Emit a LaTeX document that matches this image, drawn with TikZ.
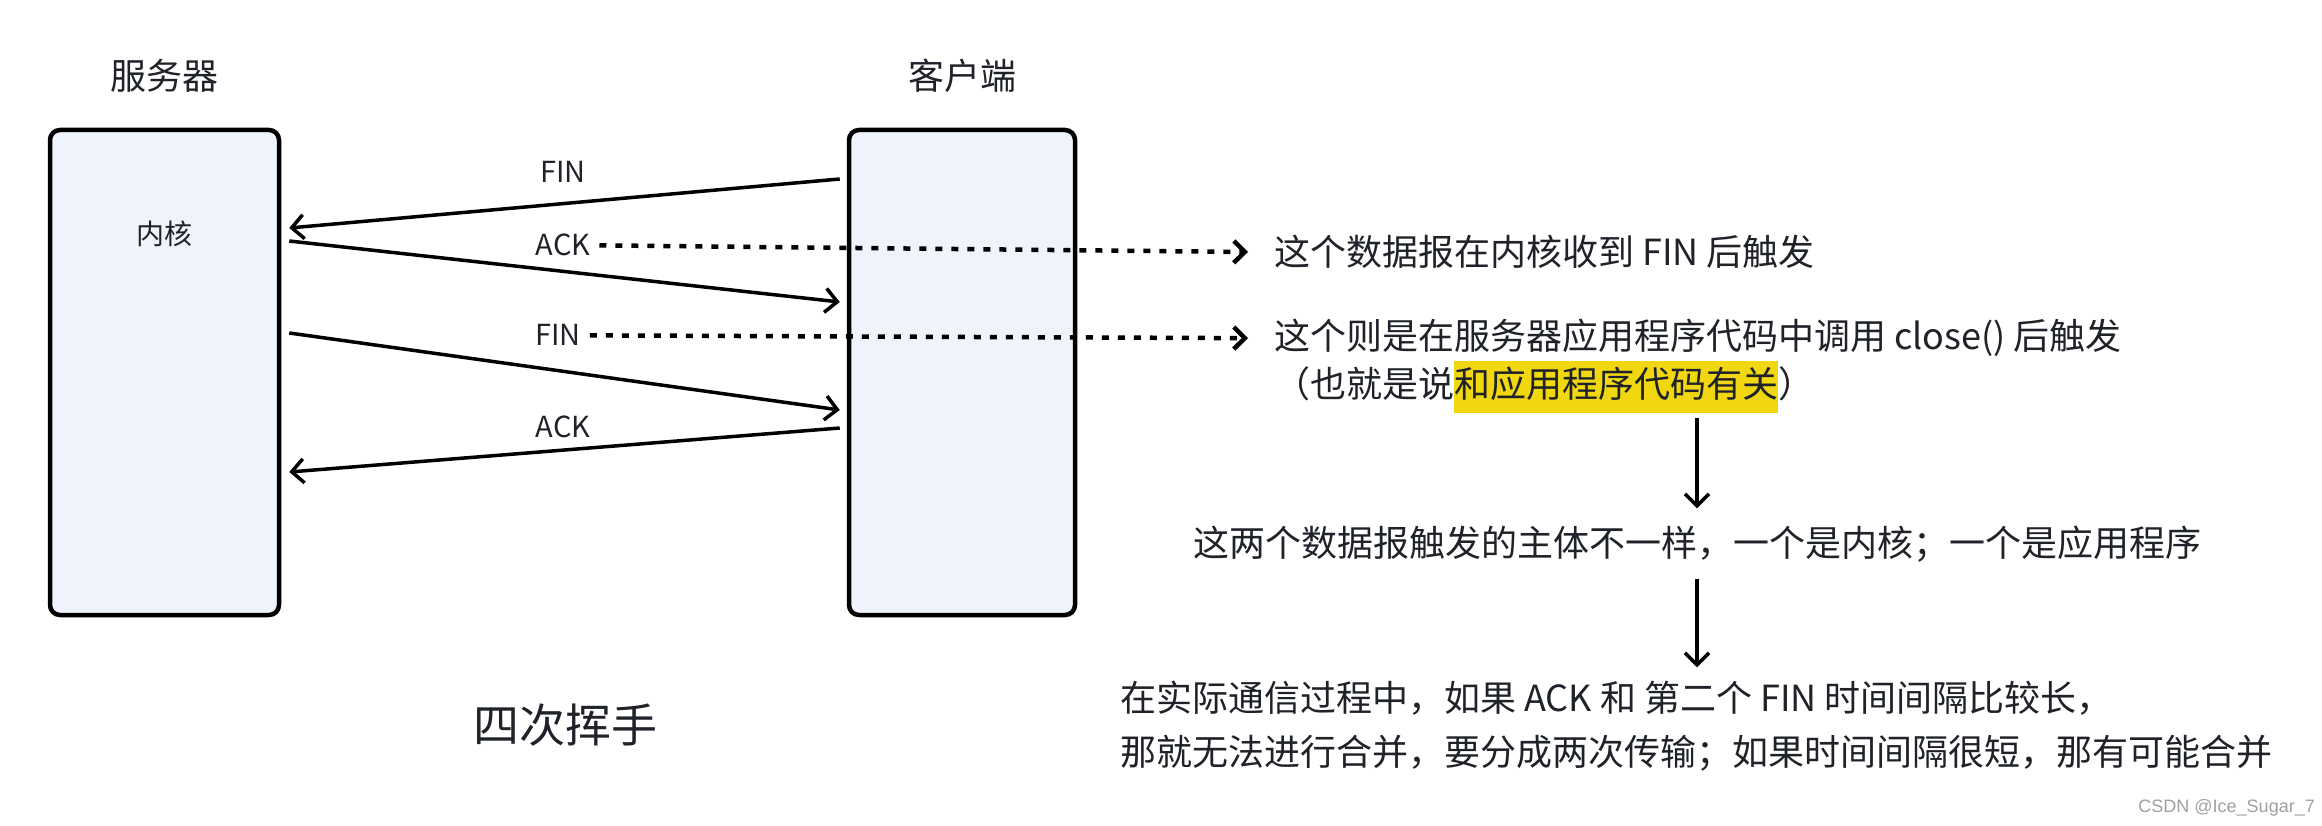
\documentclass[tikz,border=0pt]{standalone}
\usepackage{fontspec}
\setmainfont{Noto Sans CJK SC}
\newfontfamily\wmfont{Liberation Sans}
\usetikzlibrary{arrows.meta,calc}
\definecolor{txt}{RGB}{31,35,41}
\definecolor{boxfill}{RGB}{238,243,252}
\definecolor{hl}{RGB}{240,215,15}
\definecolor{wm}{RGB}{160,160,160}
\begin{document}
\begin{tikzpicture}[x=1pt,y=-1pt,
  lane/.style={draw=black, line width=4.5pt, fill=boxfill, rounded corners=10pt, inner sep=0pt},
  msg/.style={draw=black, line width=3.5pt, -{Straight Barb[length=12pt,width=24pt]}},
  note/.style={draw=black, line width=4.5pt, dash pattern=on 7pt off 9pt, -{Straight Barb[length=11pt,width=22pt]}},
  big/.style={font=\fontsize{36}{52}\selectfont, text=txt, inner sep=0pt},
  head/.style={font=\fontsize{36}{44}\selectfont, text=txt, anchor=base},
  small/.style={font=\fontsize{28}{34}\selectfont, text=txt, anchor=base},
  lab/.style={font=\fontsize{29}{35}\selectfont, text=txt, inner sep=9pt, anchor=base},
  title/.style={font=\fontsize{46}{56}\selectfont, text=txt, anchor=base}]
\fill[white] (0,0) rectangle (2322,826);
\useasboundingbox (0,0) rectangle (2322,826);

% lanes
\node[lane, minimum width=229pt, minimum height=485pt] (srv) at (164.5,372.5) {};
\node[lane, minimum width=226pt, minimum height=485pt] (cli) at (962,372.5) {};
\node[head] (srvlbl) at (164.5,90) {服务器};
\node[head] (clilbl) at (962,90) {客户端};
\node[small] (kern) at (164.5,245) {内核};

% messages
\draw[msg] ($(cli.west)+(-7,-193.5)$) -- ($(srv.east)+(8,-144.5)$);
\draw[msg] ($(srv.east)+(8,-131.5)$) -- ($(cli.west)+(-7,-70.5)$);
\draw[msg] ($(srv.east)+(8,-39.5)$) -- ($(cli.west)+(-7,37.5)$);
\draw[msg] ($(cli.west)+(-7,55.5)$) -- ($(srv.east)+(8,99.5)$);

\node[lab] (fin1) at (563,183) {FIN};
\node[lab] (ack1) at (563,256) {ACK};
\node[lab] (fin2) at (558,346) {FIN};
\node[lab] (ack2) at (563,437) {ACK};

% notes
\node[big, anchor=base west] (t1) at (1274,266) {这个数据报在内核收到 FIN 后触发};
\node[big, anchor=base west] (t2) at (1274,350) {这个则是在服务器应用程序代码中调用 close() 后触发};
\node[big, anchor=base west] (t3) at (1274,397) {（也就是说{\setlength{\fboxsep}{0pt}\colorbox{hl}{\strut 和应用程序代码有关}}）};
\draw[note, shorten >=26pt] (ack1.east) -- (t1.west);
\draw[note, shorten >=26pt] (fin2.east) -- (t2.west);

\node[big, inner ysep=17pt, anchor=base] (mid) at (1697,556) {这两个数据报触发的主体不一样，一个是内核；一个是应用程序};
\node[big, inner ysep=13pt, anchor=base west] (b1) at (1120,711) {在实际通信过程中，如果 ACK 和 第二个 FIN 时间间隔比较长，};
\node[big, anchor=base west] (b2) at (1120,765) {那就无法进行合并，要分成两次传输；如果时间间隔很短，那有可能合并};

\draw[msg] ($(t3.south -| mid.north)+(0,5)$) -- (mid.north);
\draw[msg] (mid.south) -- (b1.north -| mid.south);

\node[title] (ttl) at (565.5,742) {四次挥手};
\node[anchor=base east, font=\wmfont\fontsize{18}{22}\selectfont, text=wm, inner sep=0pt] (wmk) at (2315,812) {CSDN @Ice\_Sugar\_7};
\end{tikzpicture}
\end{document}
